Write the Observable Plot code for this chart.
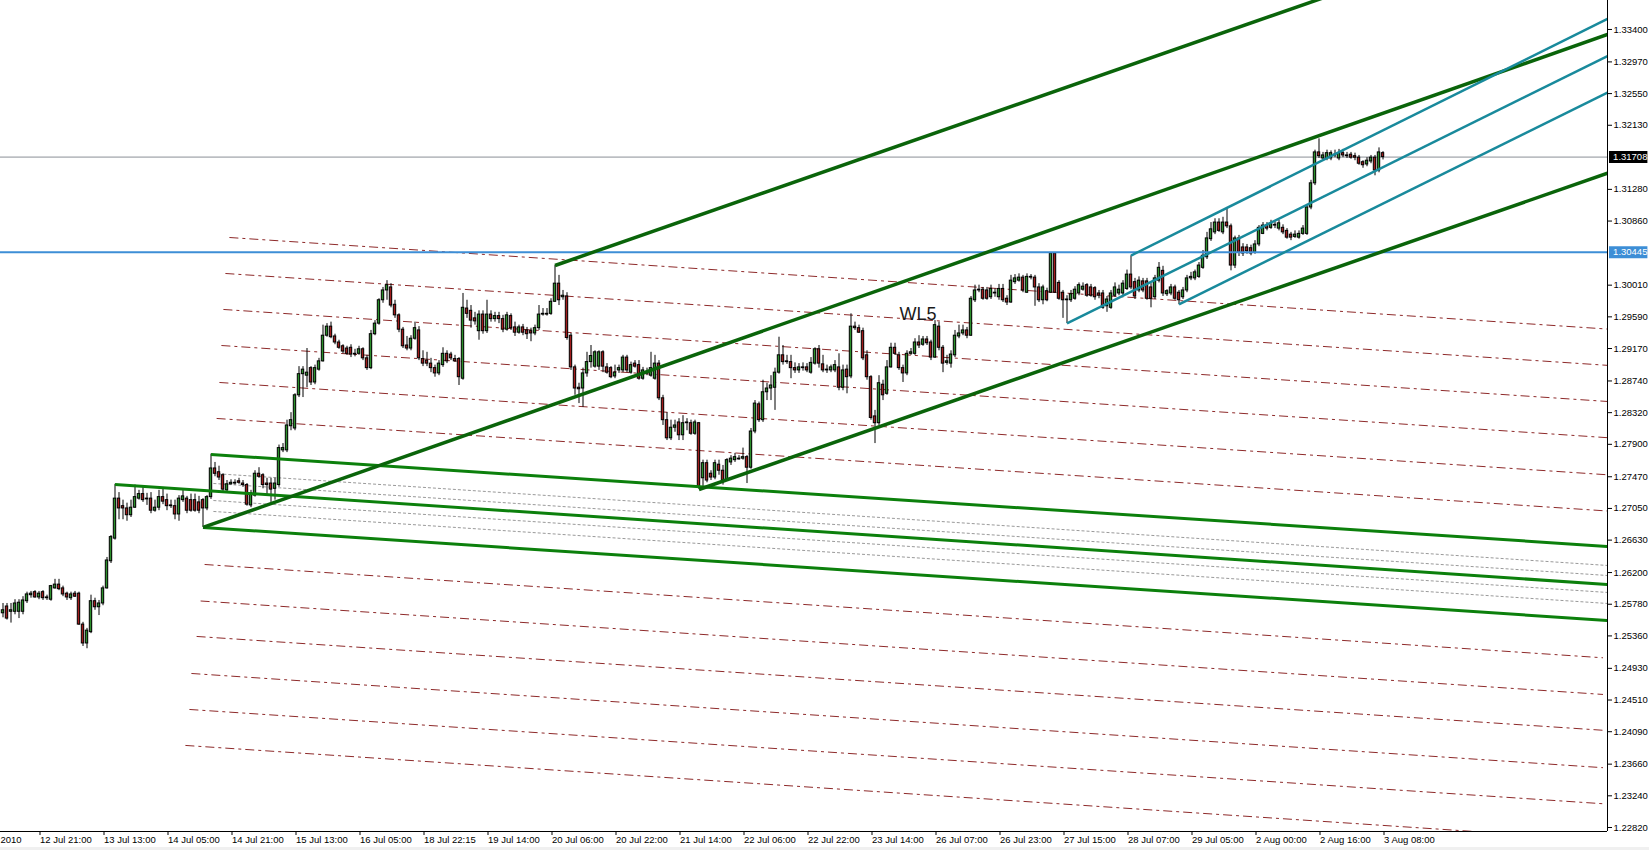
<!DOCTYPE html>
<html><head><meta charset="utf-8">
<script src="https://cdn.jsdelivr.net/npm/d3@7"></script>
<script src="https://cdn.jsdelivr.net/npm/@observablehq/plot@0.6"></script>
<style>
html,body{margin:0;padding:0;background:#f0f0f0;}
#chart svg{display:block;background:#fff;}
</style></head><body><div id="chart"></div>
<script>
// ---- candle data (H1 bars, index = bar number) ----
const openP = [
1.2566,1.2575,1.2568,1.2568,1.2568,1.2568,1.2582,1.2590,1.2594,1.2587,
1.2594,1.2587,1.2584,1.2599,1.2604,1.2599,1.2592,1.2586,1.2592,1.2592,
1.2551,1.2526,1.2541,1.2582,1.2574,1.2579,1.2599,1.2635,1.2665,1.2718,
1.2708,1.2705,1.2696,1.2706,1.2718,1.2724,1.2718,1.2718,1.2702,1.2706,
1.2720,1.2716,1.2709,1.2708,1.2697,1.2716,1.2718,1.2716,1.2716,1.2713,
1.2716,1.2705,1.2720,1.2758,1.2753,1.2749,1.2729,1.2737,1.2738,1.2741,
1.2738,1.2736,1.2709,1.2722,1.2751,1.2749,1.2738,1.2738,1.2731,1.2736,
1.2782,1.2782,1.2814,1.2811,1.2855,1.2883,1.2881,1.2891,1.2872,1.2889,
1.2900,1.2934,1.2946,1.2933,1.2925,1.2920,1.2917,1.2918,1.2910,1.2910,
1.2916,1.2904,1.2891,1.2936,1.2950,1.2981,1.2994,1.2998,1.2975,1.2961,
1.2942,1.2921,1.2917,1.2930,1.2941,1.2903,1.2901,1.2897,1.2891,1.2884,
1.2895,1.2910,1.2909,1.2903,1.2903,1.2877,1.2970,1.2967,1.2957,1.2940,
1.2962,1.2940,1.2962,1.2956,1.2960,1.2956,1.2942,1.2960,1.2945,1.2938,
1.2945,1.2941,1.2940,1.2937,1.2944,1.2962,1.2963,1.2963,1.2979,1.3003,
1.2985,1.2986,1.2934,1.2892,1.2865,1.2864,1.2884,1.2899,1.2893,1.2893,
1.2912,1.2892,1.2891,1.2880,1.2888,1.2888,1.2905,1.2885,1.2897,1.2895,
1.2877,1.2884,1.2881,1.2877,1.2897,1.2851,1.2822,1.2798,1.2812,1.2819,
1.2802,1.2818,1.2818,1.2804,1.2818,1.2745,1.2765,1.2751,1.2746,1.2763,
1.2755,1.2743,1.2766,1.2769,1.2771,1.2771,1.2773,1.2759,1.2807,1.2843,
1.2822,1.2859,1.2864,1.2865,1.2885,1.2908,1.2900,1.2899,1.2891,1.2888,
1.2892,1.2892,1.2885,1.2897,1.2916,1.2896,1.2889,1.2888,1.2888,1.2892,
1.2865,1.2889,1.2880,1.2946,1.2944,1.2940,1.2908,1.2879,1.2827,1.2818,
1.2869,1.2857,1.2892,1.2918,1.2908,1.2891,1.2884,1.2910,1.2910,1.2925,
1.2922,1.2929,1.2925,1.2905,1.2946,1.2918,1.2898,1.2897,1.2908,1.2933,
1.2937,1.2941,1.2934,1.2981,1.2994,1.2995,1.2994,1.2985,1.2990,1.2985,
1.2996,1.2983,1.2978,1.3005,1.3007,1.3011,1.2991,1.3012,1.3011,1.2998,
1.2981,1.2993,1.2991,1.3043,1.3004,1.2991,1.2982,1.2981,1.2983,1.2990,
1.2995,1.3001,1.2998,1.2997,1.2990,1.2990,1.2973,1.2971,1.2987,1.2990,
1.2990,1.2996,1.3015,1.3005,1.2994,1.3006,1.3006,1.2998,1.2985,1.3007,
1.3020,1.2989,1.2990,1.2998,1.2991,1.2985,1.2994,1.3010,1.3010,1.3012,
1.3024,1.3038,1.3062,1.3071,1.3084,1.3071,1.3084,1.3079,1.3027,1.3063,
1.3051,1.3051,1.3050,1.3044,1.3055,1.3069,1.3080,1.3077,1.3081,1.3076,
1.3077,1.3073,1.3068,1.3065,1.3064,1.3069,1.3069,1.3104,1.3136,1.3177,
1.3169,1.3169,1.3169,1.3174,1.3169,1.3176,1.3173,1.3174,1.3172,1.3170,
1.3164,1.3161,1.3165,1.3170,1.3153,1.3176];
const highP = [
1.2579,1.2579,1.2579,1.2584,1.2584,1.2588,1.2594,1.2595,1.2596,1.2595,
1.2596,1.2590,1.2603,1.2611,1.2611,1.2602,1.2594,1.2594,1.2595,1.2594,
1.2554,1.2546,1.2590,1.2586,1.2583,1.2602,1.2640,1.2669,1.2737,1.2726,
1.2716,1.2712,1.2716,1.2736,1.2729,1.2733,1.2725,1.2726,1.2716,1.2729,
1.2731,1.2724,1.2716,1.2716,1.2722,1.2729,1.2721,1.2724,1.2724,1.2721,
1.2718,1.2722,1.2777,1.2766,1.2761,1.2751,1.2742,1.2743,1.2743,1.2745,
1.2742,1.2738,1.2729,1.2755,1.2759,1.2751,1.2745,1.2745,1.2745,1.2789,
1.2791,1.2822,1.2832,1.2857,1.2893,1.2893,1.2917,1.2893,1.2895,1.2904,
1.2948,1.2950,1.2952,1.2936,1.2928,1.2922,1.2920,1.2922,1.2916,1.2920,
1.2918,1.2908,1.2941,1.2954,1.2983,1.2998,1.3007,1.3003,1.2981,1.2963,
1.2945,1.2933,1.2934,1.2952,1.2946,1.2914,1.2912,1.2904,1.2895,1.2901,
1.2918,1.2914,1.2912,1.2908,1.2905,1.2990,1.2981,1.2974,1.2965,1.2967,
1.2967,1.2981,1.2967,1.2965,1.2965,1.2961,1.2965,1.2963,1.2952,1.2948,
1.2949,1.2945,1.2944,1.2948,1.2974,1.2970,1.2970,1.2983,1.3027,1.3014,
1.2994,1.2991,1.2937,1.2895,1.2871,1.2891,1.2912,1.2921,1.2914,1.2914,
1.2914,1.2897,1.2893,1.2895,1.2895,1.2908,1.2908,1.2899,1.2901,1.2901,
1.2892,1.2891,1.2912,1.2908,1.2901,1.2855,1.2832,1.2822,1.2822,1.2824,
1.2828,1.2824,1.2822,1.2822,1.2819,1.2769,1.2769,1.2755,1.2769,1.2769,
1.2762,1.2771,1.2775,1.2778,1.2775,1.2785,1.2775,1.2811,1.2848,1.2846,
1.2875,1.2871,1.2881,1.2891,1.2932,1.2921,1.2908,1.2908,1.2898,1.2897,
1.2898,1.2897,1.2905,1.2918,1.2921,1.2908,1.2895,1.2895,1.2901,1.2910,
1.2895,1.2895,1.2963,1.2952,1.2948,1.2944,1.2914,1.2881,1.2835,1.2881,
1.2875,1.2901,1.2924,1.2924,1.2912,1.2895,1.2914,1.2917,1.2930,1.2934,
1.2933,1.2933,1.2928,1.2954,1.2952,1.2921,1.2908,1.2914,1.2941,1.2948,
1.2948,1.2945,1.2986,1.3001,1.3001,1.2998,1.2998,1.3001,1.2996,1.3002,
1.3002,1.2987,1.3014,1.3015,1.3016,1.3014,1.3016,1.3015,1.3014,1.3003,
1.3001,1.2997,1.3044,1.3044,1.3007,1.2994,1.2987,1.2994,1.2999,1.3004,
1.3004,1.3003,1.3002,1.2999,1.2994,1.2994,1.2986,1.2994,1.3004,1.3001,
1.3007,1.3021,1.3040,1.3010,1.3012,1.3010,1.3010,1.3003,1.3014,1.3031,
1.3026,1.2995,1.3002,1.3001,1.2994,1.2998,1.3014,1.3018,1.3021,1.3031,
1.3047,1.3071,1.3084,1.3089,1.3089,1.3091,1.3104,1.3082,1.3066,1.3067,
1.3056,1.3055,1.3054,1.3060,1.3080,1.3084,1.3084,1.3087,1.3085,1.3087,
1.3081,1.3076,1.3071,1.3073,1.3073,1.3080,1.3108,1.3140,1.3180,1.3195,
1.3177,1.3180,1.3179,1.3180,1.3181,1.3181,1.3177,1.3177,1.3176,1.3173,
1.3166,1.3170,1.3173,1.3173,1.3183,1.3178];
const lowP = [
1.2560,1.2557,1.2553,1.2564,1.2559,1.2564,1.2579,1.2586,1.2586,1.2584,
1.2583,1.2583,1.2582,1.2598,1.2596,1.2588,1.2583,1.2583,1.2587,1.2550,
1.2522,1.2519,1.2539,1.2570,1.2563,1.2576,1.2598,1.2632,1.2663,1.2690,
1.2690,1.2688,1.2693,1.2705,1.2716,1.2713,1.2709,1.2698,1.2700,1.2702,
1.2710,1.2702,1.2705,1.2690,1.2688,1.2713,1.2698,1.2700,1.2700,1.2698,
1.2680,1.2702,1.2717,1.2747,1.2742,1.2727,1.2726,1.2736,1.2736,1.2737,
1.2733,1.2708,1.2706,1.2720,1.2745,1.2731,1.2721,1.2713,1.2716,1.2733,
1.2779,1.2779,1.2808,1.2808,1.2852,1.2852,1.2865,1.2868,1.2869,1.2887,
1.2899,1.2932,1.2930,1.2922,1.2916,1.2910,1.2908,1.2905,1.2906,1.2908,
1.2901,1.2888,1.2889,1.2934,1.2948,1.2977,1.2981,1.2971,1.2957,1.2938,
1.2917,1.2914,1.2914,1.2928,1.2901,1.2893,1.2893,1.2885,1.2879,1.2881,
1.2892,1.2897,1.2901,1.2899,1.2868,1.2875,1.2957,1.2944,1.2948,1.2928,
1.2936,1.2937,1.2952,1.2952,1.2950,1.2938,1.2940,1.2941,1.2933,1.2936,
1.2934,1.2929,1.2926,1.2934,1.2941,1.2960,1.2960,1.2961,1.2978,1.2974,
1.2981,1.2928,1.2888,1.2855,1.2844,1.2839,1.2879,1.2891,1.2891,1.2888,
1.2885,1.2883,1.2877,1.2877,1.2884,1.2885,1.2885,1.2883,1.2891,1.2875,
1.2875,1.2881,1.2879,1.2875,1.2848,1.2815,1.2795,1.2795,1.2806,1.2795,
1.2795,1.2808,1.2802,1.2802,1.2730,1.2733,1.2739,1.2742,1.2743,1.2749,
1.2736,1.2741,1.2762,1.2766,1.2769,1.2769,1.2738,1.2757,1.2804,1.2819,
1.2819,1.2848,1.2848,1.2835,1.2883,1.2895,1.2896,1.2877,1.2884,1.2884,
1.2887,1.2885,1.2883,1.2895,1.2891,1.2885,1.2884,1.2885,1.2885,1.2861,
1.2861,1.2857,1.2877,1.2941,1.2937,1.2901,1.2875,1.2822,1.2791,1.2815,
1.2848,1.2855,1.2891,1.2908,1.2888,1.2872,1.2881,1.2908,1.2908,1.2917,
1.2920,1.2921,1.2901,1.2904,1.2914,1.2885,1.2895,1.2891,1.2905,1.2930,
1.2934,1.2930,1.2933,1.2978,1.2991,1.2981,1.2981,1.2982,1.2985,1.2981,
1.2978,1.2974,1.2977,1.3002,1.3005,1.2991,1.2990,1.3008,1.2973,1.2978,
1.2975,1.2979,1.2990,1.2990,1.2981,1.2957,1.2950,1.2978,1.2981,1.2987,
1.2993,1.2985,1.2985,1.2981,1.2983,1.2969,1.2965,1.2969,1.2985,1.2987,
1.2987,1.2994,1.2995,1.2982,1.2991,1.2991,1.2981,1.2971,1.2982,1.3004,
1.2986,1.2986,1.2987,1.2981,1.2975,1.2982,1.2991,1.3007,1.3007,1.3010,
1.3022,1.3035,1.3059,1.3068,1.3071,1.3068,1.3076,1.3020,1.3023,1.3039,
1.3039,1.3042,1.3040,1.3042,1.3052,1.3068,1.3073,1.3075,1.3076,1.3073,
1.3068,1.3062,1.3060,1.3063,1.3062,1.3067,1.3067,1.3101,1.3133,1.3169,
1.3165,1.3166,1.3166,1.3170,1.3166,1.3170,1.3169,1.3168,1.3166,1.3160,
1.3156,1.3158,1.3162,1.3146,1.3150,1.3167];
const closeP = [
1.2570,1.2559,1.2570,1.2579,1.2580,1.2583,1.2591,1.2592,1.2587,1.2592,
1.2586,1.2586,1.2602,1.2604,1.2598,1.2591,1.2587,1.2591,1.2588,1.2551,
1.2526,1.2543,1.2582,1.2574,1.2579,1.2599,1.2636,1.2667,1.2718,1.2705,
1.2705,1.2696,1.2706,1.2720,1.2724,1.2716,1.2717,1.2702,1.2706,1.2720,
1.2714,1.2708,1.2708,1.2697,1.2718,1.2721,1.2702,1.2702,1.2702,1.2702,
1.2705,1.2720,1.2758,1.2751,1.2746,1.2730,1.2737,1.2739,1.2739,1.2739,
1.2736,1.2710,1.2725,1.2751,1.2747,1.2736,1.2736,1.2730,1.2738,1.2785,
1.2785,1.2815,1.2822,1.2855,1.2883,1.2889,1.2885,1.2872,1.2891,1.2900,
1.2934,1.2946,1.2932,1.2925,1.2918,1.2913,1.2910,1.2909,1.2909,1.2916,
1.2904,1.2891,1.2936,1.2950,1.2981,1.2994,1.3001,1.2974,1.2961,1.2942,
1.2920,1.2917,1.2930,1.2944,1.2904,1.2897,1.2897,1.2891,1.2884,1.2897,
1.2910,1.2900,1.2904,1.2900,1.2879,1.2971,1.2963,1.2954,1.2953,1.2962,
1.2940,1.2962,1.2956,1.2960,1.2956,1.2942,1.2961,1.2944,1.2938,1.2945,
1.2938,1.2936,1.2937,1.2944,1.2962,1.2963,1.2962,1.2979,1.3003,1.2981,
1.2987,1.2931,1.2892,1.2864,1.2863,1.2884,1.2899,1.2907,1.2912,1.2912,
1.2893,1.2885,1.2879,1.2885,1.2891,1.2905,1.2888,1.2895,1.2893,1.2877,
1.2888,1.2885,1.2891,1.2897,1.2851,1.2822,1.2798,1.2812,1.2815,1.2802,
1.2818,1.2819,1.2804,1.2819,1.2733,1.2765,1.2742,1.2746,1.2765,1.2755,
1.2742,1.2769,1.2771,1.2773,1.2770,1.2773,1.2759,1.2807,1.2844,1.2822,
1.2859,1.2864,1.2868,1.2885,1.2908,1.2899,1.2899,1.2891,1.2888,1.2892,
1.2891,1.2888,1.2898,1.2916,1.2897,1.2888,1.2888,1.2892,1.2895,1.2865,
1.2888,1.2879,1.2946,1.2944,1.2938,1.2904,1.2879,1.2825,1.2818,1.2871,
1.2855,1.2892,1.2918,1.2910,1.2891,1.2884,1.2910,1.2912,1.2925,1.2921,
1.2929,1.2924,1.2905,1.2948,1.2918,1.2897,1.2900,1.2909,1.2934,1.2937,
1.2941,1.2934,1.2983,1.2994,1.2995,1.2983,1.2983,1.2996,1.2991,1.2996,
1.2981,1.2978,1.3007,1.3010,1.3011,1.2994,1.3012,1.3011,1.2998,1.2981,
1.2998,1.2981,1.3043,1.2991,1.2983,1.2981,1.2981,1.2989,1.2995,1.3001,
1.2999,1.2987,1.2987,1.2985,1.2987,1.2971,1.2982,1.2990,1.2998,1.2995,
1.3003,1.3015,1.2998,1.2986,1.3007,1.2994,1.2983,1.2983,1.3010,1.3024,
1.2990,1.2993,1.2998,1.2983,1.2981,1.2994,1.3010,1.3012,1.3018,1.3027,
1.3040,1.3063,1.3075,1.3084,1.3073,1.3084,1.3079,1.3027,1.3063,1.3044,
1.3043,1.3046,1.3043,1.3055,1.3077,1.3080,1.3076,1.3083,1.3080,1.3083,
1.3071,1.3064,1.3064,1.3068,1.3069,1.3076,1.3104,1.3136,1.3177,1.3172,
1.3173,1.3176,1.3176,1.3173,1.3176,1.3173,1.3172,1.3170,1.3170,1.3162,
1.3160,1.3166,1.3170,1.3153,1.3177,1.31708];

// ---- axes ----
const xTickBars = [9,25,41,57,73,89,105,121,137,153,169,185,201,217,233,249,265,281,297,313,329,345];
const xTickLabels = ["12 Jul 21:00","13 Jul 13:00","14 Jul 05:00","14 Jul 21:00","15 Jul 13:00","16 Jul 05:00",
  "18 Jul 22:15","19 Jul 14:00","20 Jul 06:00","20 Jul 22:00","21 Jul 14:00","22 Jul 06:00","22 Jul 22:00",
  "23 Jul 14:00","26 Jul 07:00","26 Jul 23:00","27 Jul 15:00","28 Jul 07:00","29 Jul 05:00","2 Aug 00:00",
  "2 Aug 16:00","3 Aug 08:00"];
const firstLabel = "2010";
const yTicks = [1.33400,1.32970,1.32550,1.32130,1.31280,1.30860,1.30010,1.29590,1.29170,1.28740,1.28320,
  1.27900,1.27470,1.27050,1.26630,1.26200,1.25780,1.25360,1.24930,1.24510,1.24090,1.23660,1.23240,1.22820];
const bidPrice = 1.31708;
const levelPrice = 1.30445;
const priceBoxes = [bidPrice, levelPrice];
const priceBoxColors = ["#000000", "#3d8ed6"];
const xDomain = [-0.625, 401.125];
const yDomain = [1.22767, 1.33784];

// ---- drawn objects: start bar, start price, end bar, end price ----
const upForkX1 = [138, 50, 174], upForkY1 = [1.30271, 1.26798, 1.27301];
const upForkX2 = [401.125, 401.125, 401.125], upForkY2 = [1.35132, 1.33333, 1.31495];
const tealX1 = [282, 266, 294], tealY1 = [1.30403, 1.29502, 1.29754];
const tealX2 = [401.125, 401.125, 401.125], tealY2 = [1.33541, 1.33046, 1.32564];
const downForkX1 = [52, 28, 50], downForkY1 = [1.27765, 1.27368, 1.26798];
const downForkX2 = [401.125, 401.125, 401.125], downForkY2 = [1.26546, 1.26042, 1.25565];
const subX1 = [52.6, 52.6, 52.6, 52.6], subY1 = [1.27513, 1.27381, 1.27155, 1.27010];
const subX2 = [401.125, 401.125, 401.125, 401.125], subY2 = [1.26294, 1.26161, 1.25936, 1.25790];
const wlX1 = [56.6, 55.6, 55.1, 54.6, 54.1, 53.4, 50.4, 49.4, 48.4, 47.1, 46.6, 45.6];
const wlY1 = [1.30642, 1.30165, 1.29688, 1.29210, 1.28720, 1.28243, 1.26307, 1.25823, 1.25353, 1.24862, 1.24385, 1.23908];
const wlX2 = [401.125,401.125,401.125,401.125,401.125,401.125,400,400,400,400,400,400];
const wlY2 = [1.29428, 1.28947, 1.28468, 1.27988, 1.27496, 1.27016, 1.25070, 1.24584, 1.24109, 1.23613, 1.23135, 1.22653];
const noteText = ["WL5"], noteBar = [224.1], notePrice = [1.2962];

const candles = openP.map((o, i) => ({i, o, h: highP[i], l: lowP[i], c: closeP[i]}));
const seg = (X1, Y1, X2, Y2) => X1.map((x, k) => ({x1: x, y1: Y1[k], x2: X2[k], y2: Y2[k]}));
const tickMap = new Map(xTickBars.map((b, k) => [b, xTickLabels[k]]));
const boxes = priceBoxes.map((v, k) => ({v, color: priceBoxColors[k]}));

const font = "'Liberation Sans', Arial, sans-serif";
const plot = Plot.plot({
  width: 1649, height: 847,
  marginLeft: 0, marginRight: 42, marginTop: 0, marginBottom: 16,
  x: {domain: xDomain, label: null},
  y: {domain: yDomain, label: null},
  style: {fontFamily: font, fontSize: "9.5px", color: "#000", background: "#fff"},
  marks: [
    Plot.link(seg(wlX1, wlY1, wlX2, wlY2), {x1: "x1", y1: "y1", x2: "x2", y2: "y2", stroke: "#8e2a2a", strokeWidth: 1, strokeDasharray: "9,4,3,4", clip: true}),
    Plot.link(seg(subX1, subY1, subX2, subY2), {x1: "x1", y1: "y1", x2: "x2", y2: "y2", stroke: "#9a9a9a", strokeWidth: 1, strokeDasharray: "3,2", clip: true}),
    Plot.ruleY([bidPrice], {stroke: "#8a9097", strokeWidth: 1}),
    Plot.ruleX(candles, {x: "i", y1: "l", y2: "h", stroke: "#000", strokeWidth: 1}),
    Plot.rect(candles, {x1: d => d.i - 0.3, x2: d => d.i + 0.3, y1: "o", y2: "c",
      fill: d => d.c >= d.o ? "#2b8f2b" : "#a11c1c", stroke: "#000", strokeWidth: 1}),
    Plot.ruleY([levelPrice], {stroke: "#3d8ed6", strokeWidth: 2}),
    Plot.link(seg(downForkX1, downForkY1, downForkX2, downForkY2), {x1: "x1", y1: "y1", x2: "x2", y2: "y2", stroke: "#0c800c", strokeWidth: 3, clip: true}),
    Plot.link(seg(upForkX1, upForkY1, upForkX2, upForkY2), {x1: "x1", y1: "y1", x2: "x2", y2: "y2", stroke: "#0a640a", strokeWidth: 3.5, clip: true}),
    Plot.link(seg(tealX1, tealY1, tealX2, tealY2), {x1: "x1", y1: "y1", x2: "x2", y2: "y2", stroke: "#198a9c", strokeWidth: 2.5, clip: true}),
    Plot.text(noteText, {x: (d, k) => noteBar[k], y: (d, k) => notePrice[k], text: d => d, textAnchor: "start", lineAnchor: "middle", fontSize: 18, fill: "#1a1a1a", fontFamily: font}),
    Plot.ruleX([xDomain[1]], {stroke: "#000", strokeWidth: 1}),
    Plot.ruleY([yDomain[0]], {stroke: "#000", strokeWidth: 1}),
    Plot.axisY({anchor: "right", ticks: yTicks, tickFormat: d => d.toFixed(5), tickSize: 4, tickPadding: 2, label: null}),
    Plot.axisX({anchor: "bottom", ticks: xTickBars, tickFormat: d => tickMap.get(d), tickSize: 4, tickPadding: 1, textAnchor: "start", dx: 1, label: null}),
    Plot.text([firstLabel], {frameAnchor: "bottom-left", text: d => d, textAnchor: "start", lineAnchor: "top", dy: 5}),
    // price boxes on the right scale (drawn in the margin, just past the right edge of the x domain)
    Plot.ruleY(boxes, {y: "v", x1: xDomain[1] + 0.5, x2: xDomain[1] + 10.1, stroke: "color", strokeWidth: 12}),
    Plot.text(boxes, {y: "v", x: xDomain[1] + 1.4, text: d => d.v.toFixed(5), fill: "#fff", textAnchor: "start", lineAnchor: "middle"})
  ]
});
document.getElementById("chart").appendChild(plot);
</script>
</body></html>
